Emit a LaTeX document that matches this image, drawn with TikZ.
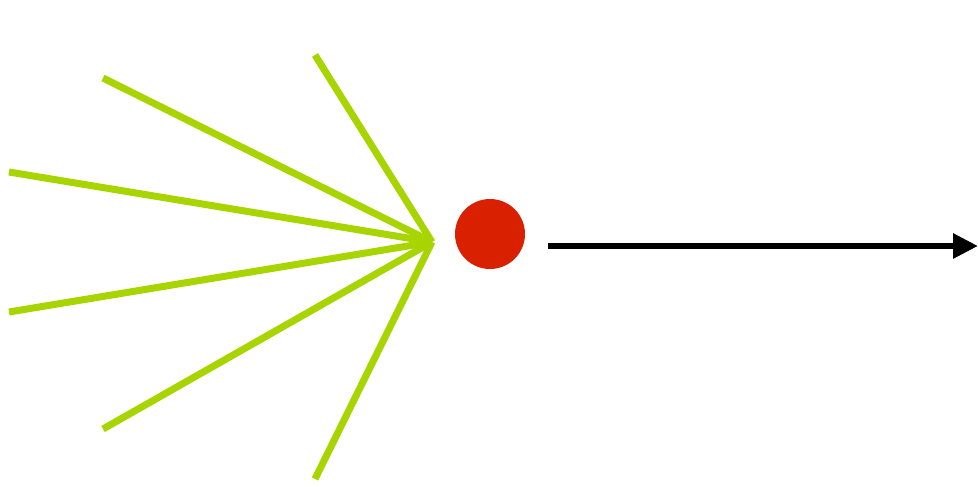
\documentclass[tikz,border=0pt]{standalone}
\usetikzlibrary{arrows.meta}
\definecolor{raygreen}{HTML}{A8D400}
\definecolor{dotred}{HTML}{D92000}
\begin{document}
\begin{tikzpicture}[x=1pt,y=-1pt,
  ray/.style={draw=raygreen,line width=7pt},
  dot/.style={circle,fill=dotred,minimum size=70pt,inner sep=0pt},
  motion/.style={draw=black,line width=6pt,-{Triangle[length=25pt,width=24pt]}}]
\useasboundingbox (0,0) rectangle (978,487);
\coordinate (f) at (432,242);
\coordinate (r1) at (315,55);
\coordinate (r2) at (103,78);
\coordinate (r3) at (9,172);
\coordinate (r4) at (9,312);
\coordinate (r5) at (103,429);
\coordinate (r6) at (315,479);
\foreach \r in {r1,r2,r3,r4,r5,r6} \draw[ray] (\r) -- (f);
\node[dot] (p) at (490,234) {};
\coordinate (a0) at (548,246);
\coordinate (a1) at (978,246);
\draw[motion] (a0) -- (a1);
\end{tikzpicture}
\end{document}
